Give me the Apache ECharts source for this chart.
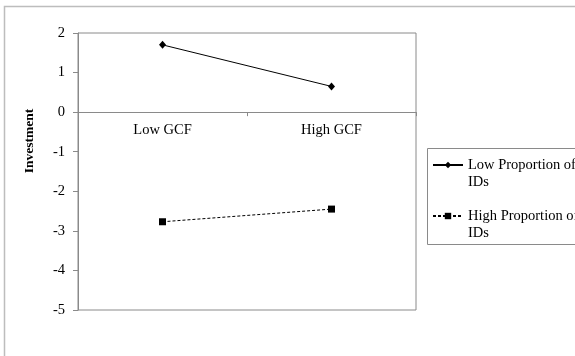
<!DOCTYPE html>
<html>
<head>
<meta charset="utf-8">
<script src="https://cdn.jsdelivr.net/npm/echarts@6/dist/echarts.min.js"></script>
<style>
html,body{margin:0;padding:0;background:#fff;}
#chart{width:575px;height:356px;}
</style>
</head>
<body>
<div id="chart"></div>
<script>
var categories = ['Low GCF', 'High GCF'];
var lowProportion = [1.70, 0.65];
var highProportion = [-2.77, -2.45];
var seriesNames = ['Low Proportion of IDs', 'High Proportion of IDs'];
var yTitle = 'Investment';

var FONT = 'Liberation Serif';
var GRAY = '#8a8a8a';
var Y_MIN = -5, Y_MAX = 2;
var GRID_TOP = 33, GRID_BOTTOM = 46, H = 356;
// pixel distance from bottom of grid up to the zero line (axis sits on y = 0)
var plotH = H - GRID_TOP - GRID_BOTTOM;
var zeroOffset = -plotH * (0 - Y_MIN) / (Y_MAX - Y_MIN);

var chart = echarts.init(document.getElementById('chart'));
chart.setOption({
  animation: false,
  backgroundColor: '#fff',
  grid: {
    left: 78, top: GRID_TOP, right: 159, bottom: GRID_BOTTOM,
    show: true, borderColor: GRAY, borderWidth: 1, backgroundColor: 'transparent'
  },
  xAxis: {
    type: 'category',
    data: categories,
    boundaryGap: true,
    position: 'bottom',
    offset: zeroOffset,
    axisLine: { onZero: false, lineStyle: { color: GRAY, width: 1 } },
    axisTick: { show: true, length: 4, lineStyle: { color: GRAY } },
    axisLabel: { color: '#000', fontFamily: FONT, fontSize: 14.5, margin: 11 },
    splitLine: { show: false }
  },
  yAxis: {
    type: 'value',
    min: Y_MIN, max: Y_MAX, interval: 1,
    axisLine: { show: true, lineStyle: { color: GRAY, width: 1 } },
    axisTick: { show: true, length: 5, lineStyle: { color: GRAY } },
    axisLabel: { color: '#000', fontFamily: FONT, fontSize: 14.5, margin: 13 },
    splitLine: { show: false }
  },
  legend: {
    orient: 'vertical',
    left: 432, top: 139.5,
    padding: 0,
    itemGap: 0,
    itemWidth: 30, itemHeight: 8,
    data: seriesNames,
    formatter: function (n) { return '\n' + n.replace(' IDs', '\nIDs'); },
    textStyle: { color: '#000', fontFamily: FONT, fontSize: 14.5, lineHeight: 17 }
  },
  graphic: [
    { type: 'rect', shape: { x: 4.5, y: 6.5, width: 700, height: 500 }, style: { fill: 'none', stroke: '#bdbdbd', lineWidth: 1.5 }, silent: true, z: -1 },
    { type: 'rect', shape: { x: 427.5, y: 148.5, width: 200, height: 96 }, style: { fill: 'none', stroke: GRAY, lineWidth: 1 }, silent: true },
    { type: 'text', x: 30, y: 141, rotation: Math.PI / 2,
      style: { text: yTitle, font: 'bold 13.5px "Liberation Serif"', fill: '#000', align: 'center', verticalAlign: 'middle' } }
  ],
  series: [
    {
      name: seriesNames[0], type: 'line', data: lowProportion,
      symbol: 'diamond', symbolSize: [7, 8],
      itemStyle: { color: '#000' },
      lineStyle: { color: '#000', width: 1 }
    },
    {
      name: seriesNames[1], type: 'line', data: highProportion,
      symbol: 'rect', symbolSize: 7,
      itemStyle: { color: '#000' },
      lineStyle: { color: '#000', width: 1, type: [3, 2] }
    }
  ]
});
</script>
</body>
</html>
